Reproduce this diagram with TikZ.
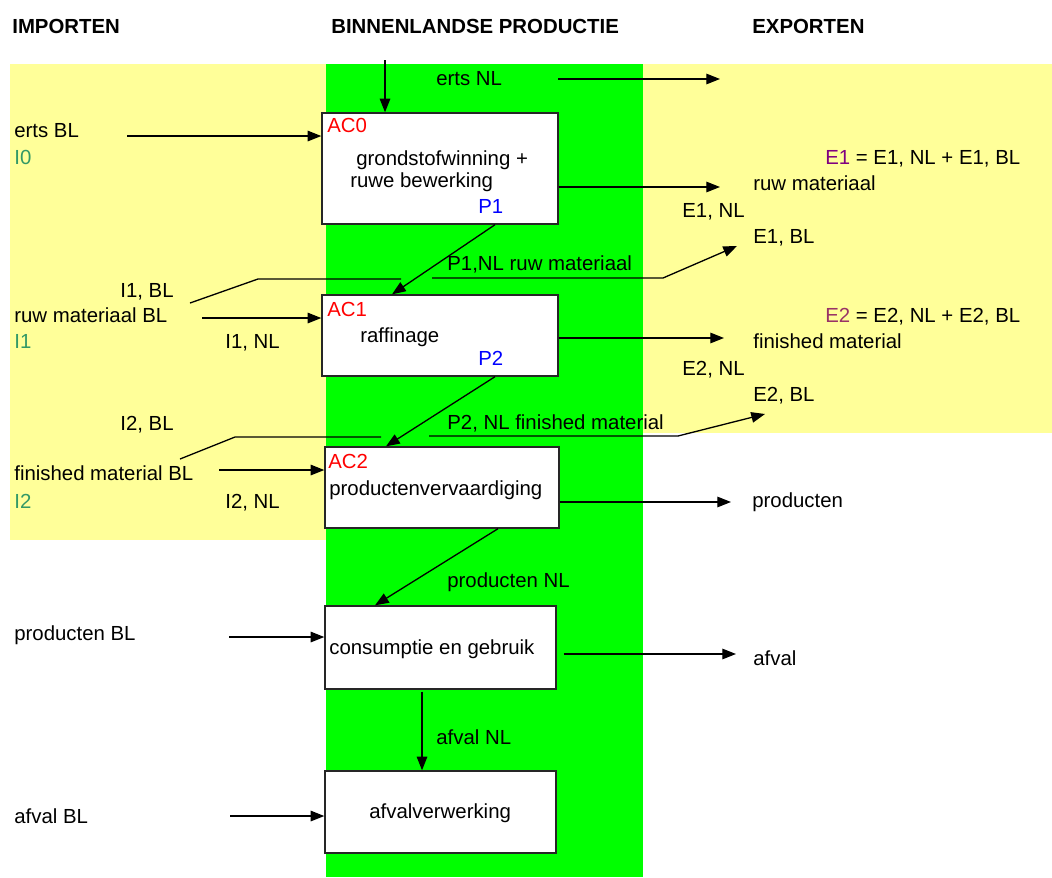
\documentclass[tikz,border=0pt]{standalone}
\usepackage{fontspec}
\setmainfont{Liberation Sans}
\usetikzlibrary{arrows.meta, positioning}
\definecolor{bandyellow}{RGB}{255,255,153}
\definecolor{bandgreen}{RGB}{0,255,0}
\definecolor{imptext}{RGB}{51,153,102}
\definecolor{expone}{RGB}{128,0,128}
\definecolor{exptwo}{RGB}{153,51,102}
\tikzset{
    process/.style={
        rectangle, draw=black!85, line width=0.8pt,
        fill=white, inner sep=0pt
    },
    flow/.style={draw=black, line width=0.75pt, -{Triangle[length=7.8pt,width=6pt]}},
    link/.style={draw=black, line width=0.75pt},
    txt/.style={
        anchor=west, inner sep=0pt, text height=9.4pt, text depth=1.2pt,
        font=\fontsize{11.6}{13}\selectfont
    },
    head/.style={txt, font=\fontsize{11.6}{13}\selectfont\bfseries},
    code/.style={txt, text=red}
}

\begin{document}
\begin{tikzpicture}[x=0.02cm, y=-0.02cm]
\useasboundingbox (0,0) rectangle (1052,877);

% Background bands
\fill[bandyellow] (10,64) rectangle (326,540);
\fill[bandyellow] (642,64) rectangle (1052,433);
\fill[bandgreen] (326,64) rectangle (643,877);

% Column headers
\node[head] (himp) at (12,26) {IMPORTEN};
\node[head] (hbin) at (331,26) {BINNENLANDSE PRODUCTIE};
\node[head] (hexp) at (752,26) {EXPORTEN};

% Process boxes
\node[process, minimum width=4.72cm, minimum height=2.22cm] (ac0) at (440,168.5) {};
\node[process, minimum width=4.72cm, minimum height=1.62cm] (ac1) at (440,335.5) {};
\node[process, minimum width=4.68cm, minimum height=1.62cm] (ac2) at (442,487.5) {};
\node[process, minimum width=4.62cm, minimum height=1.66cm] (cons) at (440.5,647.5) {};
\node[process, minimum width=4.62cm, minimum height=1.64cm] (afv) at (440.5,812) {};

% Box texts
\node[code] (lac0) at (327,125) {AC0};
\node[txt] (tac0a) at (356,158) {grondstofwinning +};
\node[txt] (tac0b) at (350,180) {ruwe bewerking};
\node[txt, text=blue] (lp1) at (478,206) {P1};
\node[code] (lac1) at (327,309) {AC1};
\node[txt] (tac1) at (360,335) {raffinage};
\node[txt, text=blue] (lp2) at (478,358) {P2};
\node[code] (lac2) at (328,461) {AC2};
\node[txt] (tac2) at (329,488) {productenvervaardiging};
\node[txt] (tcons) at (329,647) {consumptie en gebruik};
\node[txt] (tafv) at (369,811) {afvalverwerking};

% Ore
\node[txt] (ertsnl) at (436,78) {erts NL};
\node[txt] (ertsbl) at (14,130) {erts BL};
\node[txt, text=imptext] (i0) at (14,157) {I0};
\coordinate (ertsIn) at (385,60);
\coordinate (ertsNLa) at (558,79);
\coordinate (ertsNLb) at (720,79);
\coordinate (ertsBLa) at (127,136);
\draw[flow] (ertsIn) -- (ertsIn |- ac0.north);
\draw[flow] (ertsNLa) -- (ertsNLb);
\draw[flow] (ertsBLa) -- (ertsBLa -| ac0.west);

% Raw material
\node[txt] (e1) at (825,157) {\textcolor{expone}{E1} = E1, NL + E1, BL};
\node[txt] (ruwmat) at (753,183) {ruw materiaal};
\node[txt] (e1nl) at (682,210) {E1, NL};
\node[txt] (e1bl) at (753,236) {E1, BL};
\node[txt] (p1nl) at (447,263) {P1,NL ruw materiaal};
\node[txt] (i1bl) at (120,290) {I1, BL};
\node[txt] (rmbl) at (14,315) {ruw materiaal BL};
\node[txt, text=imptext] (i1) at (14,341) {I1};
\node[txt] (i1nl) at (225,341) {I1, NL};
\coordinate (e1out) at (720,187);
\coordinate (p1a) at (432,278);
\coordinate (p1b) at (663,278);
\coordinate (p1c) at (737,246);
\coordinate (i1a) at (190,303);
\coordinate (i1b) at (258,279);
\coordinate (i1c) at (401,279);
\coordinate (rmBLa) at (202,318);
\draw[flow] (e1out -| ac0.east) -- (e1out);
\draw[flow] ([xshift=1.1cm]ac0.south) -- ([xshift=-0.96cm]ac1.north);
\draw[flow] (p1a) -- (p1b) -- (p1c);
\draw[link] (i1a) -- (i1b) -- (i1c);
\draw[flow] (rmBLa) -- (rmBLa -| ac1.west);

% Finished material
\node[txt] (e2) at (825,315) {\textcolor{exptwo}{E2} = E2, NL + E2, BL};
\node[txt] (finmat) at (753,341) {finished material};
\node[txt] (e2nl) at (682,368) {E2, NL};
\node[txt] (e2bl) at (753,394) {E2, BL};
\node[txt] (p2nl) at (447,422) {P2, NL finished material};
\node[txt] (i2bl) at (120,423) {I2, BL};
\node[txt] (fmbl) at (14,473) {finished material BL};
\node[txt, text=imptext] (i2) at (14,501) {I2};
\node[txt] (i2nl) at (225,501) {I2, NL};
\coordinate (e2out) at (724,338);
\coordinate (p2a) at (429,436);
\coordinate (p2b) at (678,436);
\coordinate (p2c) at (765,414);
\coordinate (i2a) at (180,459);
\coordinate (i2b) at (235,437);
\coordinate (i2c) at (381,437);
\coordinate (fmBLa) at (219,470);
\draw[flow] (e2out -| ac1.east) -- (e2out);
\draw[flow] ([xshift=1.1cm]ac1.south) -- ([xshift=-1.12cm]ac2.north);
\draw[flow] (p2a) -- (p2b) -- (p2c);
\draw[link] (i2a) -- (i2b) -- (i2c);
\draw[flow] (fmBLa) -- (fmBLa -| ac2.west);

% Products
\node[txt] (prod) at (752,500) {producten};
\node[txt] (prodnl) at (447,580) {producten NL};
\node[txt] (prodbl) at (14,633) {producten BL};
\coordinate (prodOut) at (731,502);
\coordinate (prodBLa) at (229,637);
\draw[flow] (prodOut -| ac2.east) -- (prodOut);
\draw[flow] ([xshift=1.12cm]ac2.south) -- ([xshift=-1.31cm]cons.north);
\draw[flow] (prodBLa) -- (prodBLa -| cons.west);

% Waste
\node[txt] (afval) at (753,658) {afval};
\node[txt] (afvalnl) at (436,737) {afval NL};
\node[txt] (afvalbl) at (14,816) {afval BL};
\coordinate (afvalOut) at (736,654);
\coordinate (afvalBLa) at (230,816);
\draw[flow, shorten <=0.14cm] (afvalOut -| cons.east) -- (afvalOut);
\draw[flow, shorten <=0.04cm] ([xshift=-0.37cm]cons.south) -- ([xshift=-0.37cm]afv.north);
\draw[flow] (afvalBLa) -- (afvalBLa -| afv.west);

\end{tikzpicture}
\end{document}
